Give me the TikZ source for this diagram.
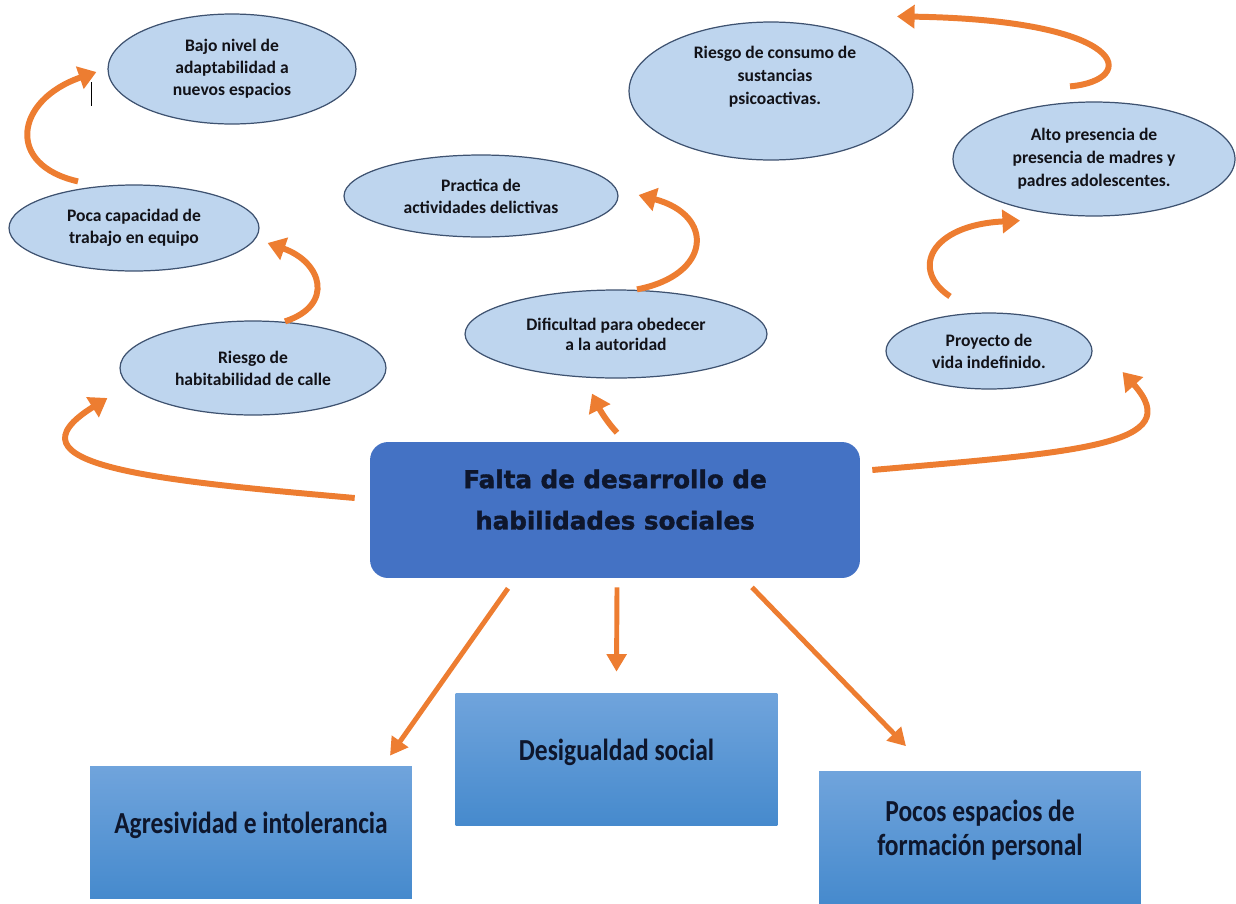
\documentclass[tikz,border=0pt]{standalone}
\usepackage{fontspec}
\setmainfont{Carlito}
\newfontfamily\heavyfont{DejaVu Sans Bold}[FakeBold=1.6]
\usetikzlibrary{shapes.geometric,arrows.meta}
\definecolor{orng}{RGB}{237,125,49}
\definecolor{ellfill}{RGB}{190,213,238}
\definecolor{elldraw}{RGB}{62,82,112}
\definecolor{mainblue}{RGB}{68,114,196}
\definecolor{boxtop}{RGB}{112,164,220}
\definecolor{boxbot}{RGB}{70,138,205}
\definecolor{ink}{RGB}{18,18,24}
\definecolor{navy}{RGB}{14,22,44}
\begin{document}
\begin{tikzpicture}[x=0.02cm,y=-0.02cm,
 ell/.style={ellipse, draw=elldraw, line width=0.7pt, fill=ellfill, inner sep=0pt, align=center, text=ink, font=\fontsize{10}{12.5}\selectfont\bfseries},
 mainbox/.style={rectangle, rounded corners=0.36cm, fill=mainblue, minimum width=9.8cm, minimum height=2.72cm, align=center, text=navy, text depth=12pt, font=\heavyfont\fontsize{14}{23.5}\selectfont},
 effbox/.style={rectangle, top color=boxtop, bottom color=boxbot, minimum width=6.44cm, minimum height=2.64cm, align=center, text=navy, text depth=11pt, font=\fontsize{14.5}{19.5}\selectfont\bfseries},
 curv/.style={draw=orng, line width=3.4pt, -{Triangle[length=10pt,width=13pt]}},
 strt/.style={draw=orng, line width=2.8pt, -{Triangle[length=10pt,width=11pt]}}]
\useasboundingbox (0,0) rectangle (1236,903);

% ellipses
\node[ell, minimum width=4.96cm, minimum height=2.2cm] (bajo) at (232,69) {Bajo nivel de\\adaptabilidad a\\nuevos espacios};
\node[ell, minimum width=5.0cm, minimum height=1.72cm] (poca) at (134,228) {Poca capacidad de\\trabajo en equipo};
\node[ell, minimum width=5.32cm, minimum height=1.88cm] (habit) at (253,368) {Riesgo de\\habitabilidad de calle};
\node[ell, minimum width=5.48cm, minimum height=1.64cm] (pract) at (481,196) {Practica de\\actividades delictivas};
\node[ell, minimum width=6.04cm, minimum height=1.76cm, font=\fontsize{10}{11.5}\selectfont\bfseries] (dific) at (616,334) {Dificultad para obedecer\\a la autoridad};
\node[ell, minimum width=5.68cm, minimum height=2.76cm] (consumo) at (771,91) {};
\node[align=center, text=ink, font=\fontsize{10}{13.2}\selectfont\bfseries] (consumotxt) at (775,77) {Riesgo de consumo de\\sustancias\\psicoactivas.};
\node[ell, minimum width=5.64cm, minimum height=2.28cm, font=\fontsize{10}{13.2}\selectfont\bfseries] (alto) at (1094,159) {Alto presencia de\\presencia de madres y\\padres adolescentes.};
\node[ell, minimum width=4.12cm, minimum height=1.52cm] (proy) at (989,351) {Proyecto de\\vida indefinido.};

% main box
\node[mainbox] (main) at (615,510) {Falta de desarrollo de\\habilidades sociales};

% effect boxes
\node[effbox] (agr) at (251,832) {\scalebox{1}[1.2]{Agresividad e intolerancia}};
\node[effbox] (des) at (616.5,759) {\scalebox{1}[1.2]{Desigualdad social}};
\node[effbox] (poc) at (980,837.5) {\scalebox{1}[1.2]{Pocos espacios de}\\\scalebox{1}[1.2]{formación personal}};

% curved arrows
\draw[curv] ([shift={(-15,-12)}]main.west) .. controls (150,480) and (0,465) .. ([shift={(-12,30)}]habit.west);
\draw[curv] ([shift={(32,1)}]habit.north) .. controls (335,305) and (322,262) .. ([shift={(8,15)}]poca.east);
\draw[curv] ([shift={(-56,-3)}]poca.north) .. controls (5,165) and (15,100) .. ([shift={(-11,3)}]bajo.west);
\draw[curv] ([shift={(2,-9)}]main.north) .. controls (607,422) and (600,410) .. ([shift={(-24,15)}]dific.south);
\draw[curv] ([shift={(21,0)}]dific.north) .. controls (712,275) and (715,215) .. ([shift={(20,-1)}]pract.east);
\draw[curv] ([shift={(12,-40)}]main.east) .. controls (1080,452) and (1188,445) .. ([shift={(30,21)}]proy.east);
\draw[curv] ([shift={(-39,-16)}]proy.north) .. controls (910,270) and (930,225) .. ([shift={(-74,4)}]alto.south);
\draw[curv] ([shift={(-24,-15)}]alto.north) .. controls (1140,80) and (1130,20) .. ([shift={(126,-5)}]consumo.north);

% straight arrows
\draw[strt] ([shift={(-107,10)}]main.south) -- ([shift={(139,-10)}]agr.north);
\draw[strt] ([shift={(2,9)}]main.south) -- ([shift={(0,-21)}]des.north);
\draw[strt] ([shift={(137,9)}]main.south) -- ([shift={(-74,-25)}]poc.north);

% cursor mark
\draw[black, line width=0.6pt] ([shift={(-16,13)}]bajo.west) -- ([shift={(-16,37)}]bajo.west);
\end{tikzpicture}
\end{document}
